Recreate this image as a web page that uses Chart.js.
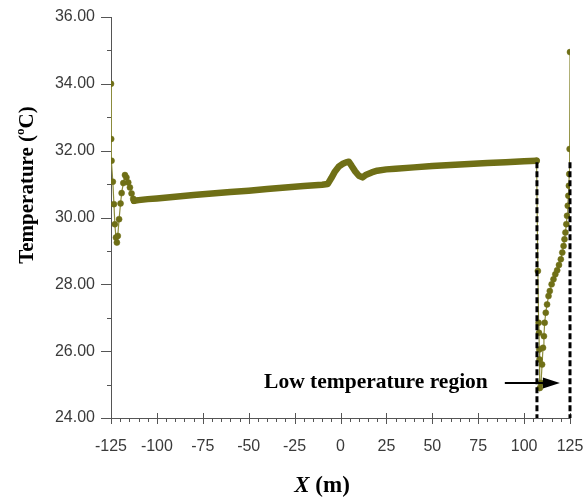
<!DOCTYPE html>
<html>
<head>
<meta charset="utf-8">
<script src="https://cdn.jsdelivr.net/npm/chart.js@4.4.1/dist/chart.umd.min.js"></script>
<style>
  html, body { margin: 0; padding: 0; background: #fff; }
  #wrap { width: 586px; height: 499px; }
</style>
</head>
<body>
<div id="wrap"><canvas id="chart" width="586" height="499"></canvas></div>
<script>
// Left end of the profile (sparse points near the boundary)
const leftX = [-125, -124.9, -124.7, -124.0, -123.4, -122.9, -122.3, -121.8, -121.3, -120.6,
  -119.8, -119.2, -118.3, -117.4, -116.6, -115.6, -114.7, -113.8, -112.9, -112.5];
const leftT = [34.00, 32.35, 31.70, 31.07, 30.40, 29.80, 29.40, 29.25, 29.45, 29.95,
  30.42, 30.73, 31.03, 31.27, 31.20, 31.05, 30.90, 30.72, 30.56, 30.50];

// Long middle stretch (dense points, drawn as a thick line)
const plateauX = [-112.5, -110, -105, -100, -90, -80, -70, -60, -50, -40, -30, -20, -10, -7,
  -5, -3, -1, 1, 3, 4.5, 6, 8, 10, 12, 14, 17, 20, 25, 30, 40, 50, 60, 70, 80, 90, 100, 106.8];
const plateauT = [30.50, 30.52, 30.55, 30.57, 30.62, 30.67, 30.72, 30.76, 30.80, 30.85, 30.90,
  30.94, 30.98, 31.00, 31.18, 31.38, 31.52, 31.60, 31.65, 31.67, 31.55, 31.38, 31.25, 31.20,
  31.28, 31.35, 31.40, 31.44, 31.46, 31.50, 31.54, 31.57, 31.60, 31.63, 31.65, 31.68, 31.70];

// Right end: drop into the low temperature region and recovery
const rightX = [106.8, 107.5, 107.9, 108.1, 108.3, 108.4, 108.6, 109.2, 109.8, 110.3, 110.8,
  111.2, 111.8, 112.5, 113.3, 114.0, 115.0, 116.0, 117.0, 118.0, 119.0, 120.0, 120.8, 121.5,
  122.0, 122.5, 123.0, 123.4, 123.8, 124.1, 124.4, 124.6, 124.8, 125.0];
const rightT = [31.70, 28.40, 26.85, 26.55, 26.05, 25.75, 24.90, 25.05, 25.60, 26.10, 26.45,
  26.85, 27.15, 27.40, 27.65, 27.80, 28.00, 28.15, 28.30, 28.42, 28.58, 28.75, 28.95, 29.15,
  29.35, 29.55, 29.80, 30.05, 30.35, 30.65, 30.95, 31.30, 32.05, 34.95];

// Annotation: boundaries of the low temperature region
const regionBounds = [107, 125];
const regionTop = 31.65;
const regionLabel = 'Low temperature region';
const arrowLevel = 25.05;
const arrowFrom = 89.5;
const arrowTo = 119.5;

const xTicks = { min: -125, max: 125, step: 25, minor: 5 };
const yTicks = { min: 24, max: 36, step: 2, minor: 1 };

const olive = '#6f6f16';
const oliveLine = '#8e8e3c';
const axisColor = '#555';

const toPoints = (xs, ys) => xs.map((x, i) => ({ x, y: ys[i] }));

// Major/minor tick marks drawn by hand
const tickMarks = {
  id: 'tickMarks',
  afterDraw(chart) {
    const { ctx, chartArea, scales: { x, y } } = chart;
    ctx.save();
    ctx.strokeStyle = axisColor;
    ctx.lineWidth = 1;
    ctx.beginPath();
    for (let v = xTicks.min; v <= xTicks.max; v += xTicks.minor) {
      const px = Math.round(x.getPixelForValue(v)) + 0.5;
      const major = (v - xTicks.min) % xTicks.step === 0;
      ctx.moveTo(px, chartArea.bottom - (major ? 5 : 0));
      ctx.lineTo(px, chartArea.bottom + (major ? 6 : 4));
    }
    for (let v = yTicks.min; v <= yTicks.max; v += yTicks.minor) {
      const py = Math.round(y.getPixelForValue(v)) + 0.5;
      const major = (v - yTicks.min) % yTicks.step === 0;
      ctx.moveTo(chartArea.left - (major ? 10 : 4), py);
      ctx.lineTo(chartArea.left, py);
    }
    ctx.stroke();
    ctx.restore();
  }
};

// Dashed region bounds, arrow, label and axis titles
const annotations = {
  id: 'annotations',
  afterDraw(chart) {
    const { ctx, chartArea, scales: { x, y } } = chart;
    ctx.save();

    ctx.strokeStyle = '#000';
    ctx.lineWidth = 3;
    ctx.setLineDash([6, 3]);
    regionBounds.forEach(b => {
      const px = x.getPixelForValue(b);
      ctx.beginPath();
      ctx.moveTo(px, y.getPixelForValue(regionTop));
      ctx.lineTo(px, chartArea.bottom);
      ctx.stroke();
    });
    ctx.setLineDash([]);

    // arrow
    const ay = y.getPixelForValue(arrowLevel);
    const ax0 = x.getPixelForValue(arrowFrom);
    const ax1 = x.getPixelForValue(arrowTo);
    ctx.lineWidth = 2;
    ctx.beginPath();
    ctx.moveTo(ax0, ay);
    ctx.lineTo(ax1 - 14, ay);
    ctx.stroke();
    ctx.fillStyle = '#000';
    ctx.beginPath();
    ctx.moveTo(ax1, ay);
    ctx.lineTo(ax1 - 17, ay - 5.5);
    ctx.lineTo(ax1 - 17, ay + 5.5);
    ctx.closePath();
    ctx.fill();

    ctx.font = 'bold 21.5px "Liberation Serif", serif';
    ctx.textAlign = 'right';
    ctx.textBaseline = 'middle';
    ctx.fillText(regionLabel, ax0 - 17, ay);

    // x title with italic X
    ctx.textBaseline = 'alphabetic';
    ctx.textAlign = 'left';
    const xt1 = 'X';
    const xt2 = ' (m)';
    ctx.font = 'italic bold 23px "Liberation Serif", serif';
    const w1 = ctx.measureText(xt1).width;
    ctx.font = 'bold 23px "Liberation Serif", serif';
    const w2 = ctx.measureText(xt2).width;
    let sx = 322 - (w1 + w2) / 2;
    ctx.font = 'italic bold 23px "Liberation Serif", serif';
    ctx.fillText(xt1, sx, 492);
    ctx.font = 'bold 23px "Liberation Serif", serif';
    ctx.fillText(xt2, sx + w1, 492);

    // y title with superscript o
    ctx.translate(33, 185);
    ctx.rotate(-Math.PI / 2);
    const p1 = 'Temperature (';
    const p2 = 'o';
    const p3 = 'C)';
    ctx.font = 'bold 21px "Liberation Serif", serif';
    const m1 = ctx.measureText(p1).width;
    const m3 = ctx.measureText(p3).width;
    ctx.font = 'bold 13px "Liberation Serif", serif';
    const m2 = ctx.measureText(p2).width;
    let tx = -(m1 + m2 + m3) / 2;
    ctx.font = 'bold 21px "Liberation Serif", serif';
    ctx.fillText(p1, tx, 0);
    ctx.font = 'bold 13px "Liberation Serif", serif';
    ctx.fillText(p2, tx + m1, -9);
    ctx.font = 'bold 21px "Liberation Serif", serif';
    ctx.fillText(p3, tx + m1 + m2, 0);

    ctx.restore();
  }
};

const tickFont = { family: '"Liberation Sans", Arial, sans-serif', size: 16 };

new Chart(document.getElementById('chart'), {
  type: 'line',
  data: {
    datasets: [
      {
        data: toPoints(plateauX, plateauT),
        borderColor: olive,
        borderWidth: 6.5,
        borderCapStyle: 'round',
        borderJoinStyle: 'round',
        pointRadius: 0,
        tension: 0
      },
      {
        data: toPoints(leftX, leftT),
        borderColor: oliveLine,
        borderWidth: 1.2,
        pointRadius: 3,
        pointBorderWidth: 0.5,
        pointBackgroundColor: olive,
        pointBorderColor: olive,
        tension: 0
      },
      {
        data: toPoints(rightX, rightT),
        borderColor: oliveLine,
        borderWidth: 1.2,
        pointRadius: 3,
        pointBorderWidth: 0.5,
        pointBackgroundColor: olive,
        pointBorderColor: olive,
        tension: 0
      }
    ]
  },
  options: {
    responsive: false,
    animation: false,
    layout: { padding: { top: 17, right: 16, left: 0, bottom: 0 } },
    plugins: {
      legend: { display: false },
      tooltip: { enabled: false }
    },
    scales: {
      x: {
        type: 'linear',
        min: xTicks.min,
        max: xTicks.max,
        grid: { display: false, drawTicks: false },
        border: { display: true, color: axisColor, width: 1 },
        ticks: {
          stepSize: xTicks.step,
          autoSkip: false,
          maxRotation: 0,
          padding: 19,
          color: '#3a3a3a',
          font: tickFont
        },
        afterFit: s => {
          s.height = 81;
          s.paddingLeft = 0;
          s.paddingRight = 0;
        }
      },
      y: {
        min: yTicks.min,
        max: yTicks.max,
        grid: { display: false, drawTicks: false },
        border: { display: true, color: axisColor, width: 1 },
        ticks: {
          stepSize: yTicks.step,
          padding: 16,
          color: '#3a3a3a',
          font: tickFont,
          callback: v => v.toFixed(2)
        },
        afterFit: s => {
          s.width = 111;
          s.paddingTop = 0;
          s.paddingBottom = 0;
        }
      }
    }
  },
  plugins: [tickMarks, annotations]
});
</script>
</body>
</html>
